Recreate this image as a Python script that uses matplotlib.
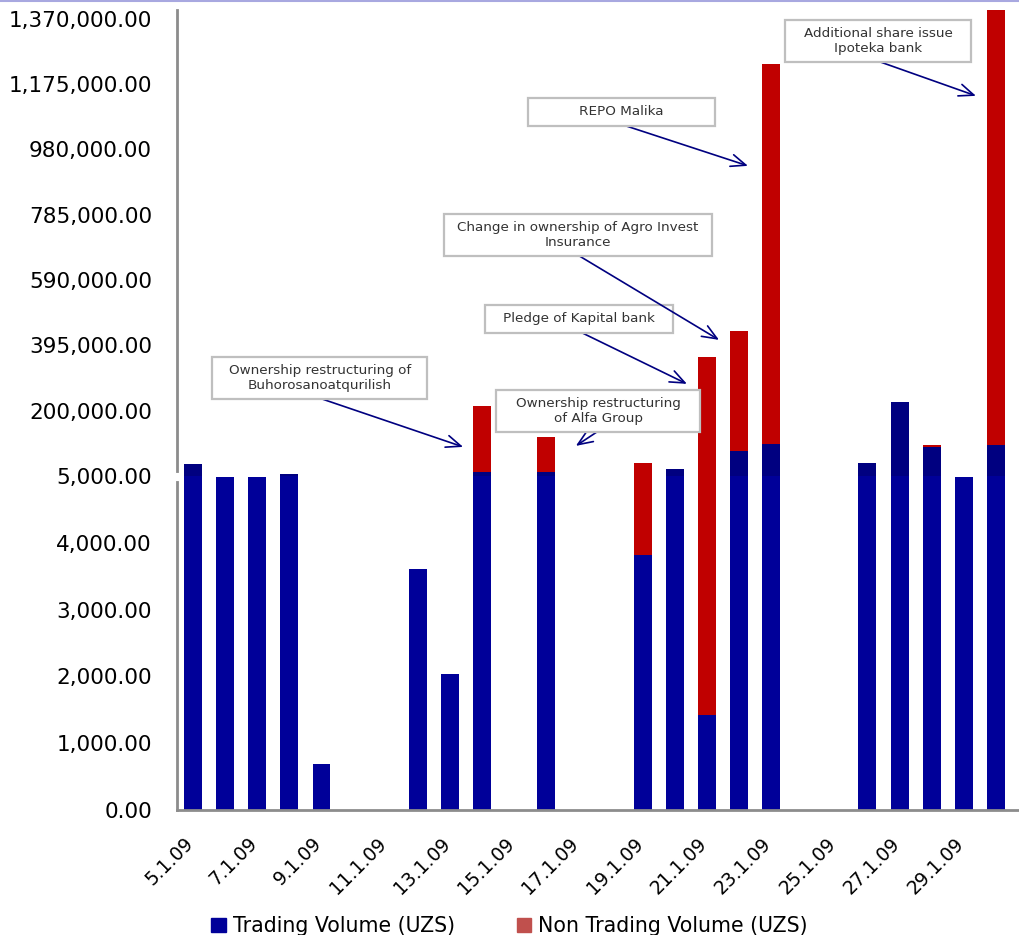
import numpy as np
import matplotlib
matplotlib.use("Agg")
import matplotlib.pyplot as plt
from matplotlib.patches import Patch
from matplotlib.path import Path
from matplotlib.lines import Line2D
from matplotlib.transforms import ScaledTranslation

dates = ['5.1.09', '6.1.09', '7.1.09', '8.1.09', '9.1.09', '10.1.09', '11.1.09',
         '12.1.09', '13.1.09', '14.1.09', '15.1.09', '16.1.09', '17.1.09', '18.1.09',
         '19.1.09', '20.1.09', '21.1.09', '22.1.09', '23.1.09', '24.1.09', '25.1.09',
         '26.1.09', '27.1.09', '28.1.09', '29.1.09', '30.1.09']
trading = [41000, 4990, 4990, 12000, 690, 0, 0, 3610, 2040, 17000, 0, 17000, 0, 0,
           3820, 25900, 1420, 79700, 100600, 0, 0, 43800, 226000, 91600, 4990, 97600]
non_trading = [0, 0, 0, 0, 0, 0, 0, 0, 0, 197000, 0, 104000, 0, 0,
               40000, 0, 358600, 358300, 1134400, 0, 0, 0, 0, 6000, 0, 1307400]
yticks = [0, 1000, 2000, 3000, 4000, 5000, 200000, 395000, 590000, 785000,
          980000, 1175000, 1370000]

# text, text centre, arrow tip, box width (px)
notes = [
    ("Ownership restructuring of\nBuhorosanoatqurilish", (3.95, 297600), (8.41, 91600), 215),
    ("Ownership restructuring\nof Alfa Group", (12.61, 199100), (11.92, 94600), 204),
    ("Pledge of Kapital bank", (12.02, 473800), (15.38, 279700), 188),
    ("Change in ownership of Agro Invest\nInsurance", (11.99, 724700), (16.38, 411100), 268),
    ("REPO Malika", (13.33, 1092000), (17.28, 930700), 187),
    ("Additional share issue\nIpoteka bank", (21.33, 1304000), (24.38, 1139700), 186),
]

BREAK = 5000.0
K = 0.9775


def fwd(v):
    v = np.asarray(v, dtype=float)
    return np.where(v <= BREAK, v / 1000.0, 5 + (v - BREAK) / 195000.0 * K)


def inv(u):
    u = np.asarray(u, dtype=float)
    return np.where(u <= 5, u * 1000.0, BREAK + (u - 5) / K * 195000.0)


def make_box(box_w):
    def box(x0, y0, width, height, mutation_size):
        h = max((box_w - width) / 2.0, 4)
        v = 0.55 * mutation_size
        return Path([(x0 - h, y0 - v), (x0 + width + h, y0 - v),
                     (x0 + width + h, y0 + height + v), (x0 - h, y0 + height + v),
                     (x0 - h, y0 - v)], closed=True)
    return box


fig = plt.figure(figsize=(10.19, 9.35), dpi=100)
ax = fig.add_axes([0.1737, 0.1337, 0.8263, 0.8556])
ax.set_yscale('function', functions=(fwd, inv))

x = np.arange(len(dates))
tr = np.array(trading, dtype=float)
nt = np.array(non_trading, dtype=float)
low = np.minimum(tr, BREAK)
high = np.maximum(tr - BREAK, 0)
w = 0.56
ax.bar(x, low, w, color='#000099')
ax.bar(x, high, w, bottom=BREAK, color='#000080')
ax.bar(x, nt, w, bottom=tr, color='#C00000')

ax.set_xlim(-0.5, 25.72)
ax.set_ylim(0, 1396000)
ax.set_yticks(yticks)
ax.set_yticklabels([f"{v:,.2f}" for v in yticks])
ax.set_xticks(x[::2])
ax.set_xticklabels(dates[::2], rotation=45, ha='right', va='top')
ax.tick_params(axis='both', length=0, colors='#000000')
ax.tick_params(axis='y', labelsize=15.5, pad=18)
ax.tick_params(axis='x', labelsize=13.5, pad=17)
off = ScaledTranslation(0.04, 0, fig.dpi_scale_trans)
for lab in ax.get_xticklabels():
    lab.set_transform(lab.get_transform() + off)

for s in ['top', 'right']:
    ax.spines[s].set_visible(False)
for s in ['left', 'bottom']:
    ax.spines[s].set_color('#8C8C8C')
    ax.spines[s].set_linewidth(2)

# break mark on the value axis
ax.plot([-0.5, -0.5], [4960, 8000], color='white', lw=3, clip_on=False, zorder=5)

for txt, xyt, xy, bw in notes:
    ry = -0.24 if '\n' in txt else -0.46
    ax.annotate(txt, xy=xy, xytext=xyt, ha='center', va='center', fontsize=9.7,
                color='#333333', zorder=6, linespacing=1.15,
                bbox=dict(boxstyle=make_box(bw), fc='white', ec='#BFBFBF', lw=1.6),
                arrowprops=dict(arrowstyle='->,head_length=1.1,head_width=0.45',
                                color='#000080', lw=1.2, relpos=(0.5, ry),
                                patchA=None, shrinkA=0, shrinkB=0))

handles = [Patch(color='#000099', label='Trading Volume (UZS)'),
           Patch(color='#C0504D', label='Non Trading Volume (UZS)')]
fig.legend(handles=handles, loc='lower center', bbox_to_anchor=(0.5, -0.021),
           ncol=2, frameon=False, fontsize=14.8, handlelength=0.7,
           handleheight=0.7, handletextpad=0.35, columnspacing=3.0)

fig.add_artist(Line2D([0, 1], [0.9985, 0.9985], color='#A8A8E0', lw=1.5))

fig.savefig('out.png', dpi=100)
